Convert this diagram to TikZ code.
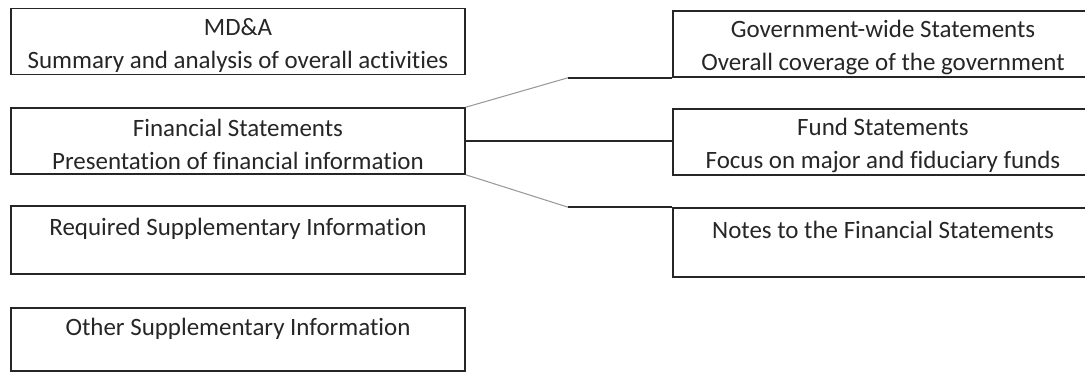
\documentclass[tikz,border=0pt]{standalone}
\usepackage{fontspec}
\setmainfont{Carlito}[Ligatures=NoCommon]

\newcommand{\boxtop}{\rule{0pt}{14pt}}

\tikzset{
  infobox/.style={draw=black!85, line width=0.9pt, minimum height=1.32cm,
    inner sep=0pt, align=center, text=black!85,
    font=\fontsize{14.2}{18.9}\selectfont},
  leftbox/.style={infobox, minimum width=9.08cm},
  rightbox/.style={infobox, minimum width=8.4cm},
  graylink/.style={draw=black!40, line width=0.6pt},
  blacklink/.style={draw=black!85, line width=0.9pt}
}

\begin{document}
\begin{tikzpicture}
  \useasboundingbox (0,0) rectangle (21.7,7.46);
  \clip (0,0) rectangle (21.7,7.46);

  % left column
  \node[leftbox] (mda) at (4.76, 6.63) {\boxtop MD\&A\\Summary and analysis of overall activities};
  \node[leftbox] (fin) at (4.76, 4.64) {\boxtop Financial Statements\\Presentation of financial information};
  \node[leftbox, minimum height=1.36cm] (rsi) at (4.76, 2.66) {\boxtop Required Supplementary Information\\\mbox{}};
  \node[leftbox, minimum height=1.27cm] (osi) at (4.76, 0.67) {\boxtop Other Supplementary Information\\\mbox{}};

  % right column
  \node[rightbox] (gov) at (17.66, 6.58) {\boxtop Government-wide Statements\\Overall coverage of the government};
  \node[rightbox] (fund) at (17.66, 4.62) {\boxtop Fund Statements\\Focus on major and fiduciary funds};
  \node[rightbox, minimum height=1.38cm] (notes) at (17.66, 2.61) {\boxtop Notes to the Financial Statements\\\mbox{}};

  % bends
  \coordinate (bendup) at (gov.south west -| 11.36,0);
  \coordinate (benddown) at (notes.north west -| 11.36,0);

  % connectors
  \draw[graylink] (fin.north east) -- (bendup);
  \draw[blacklink] (bendup) -- (gov.south west);
  \draw[blacklink] (fin.east) -- (fin.east -| fund.west);
  \draw[graylink] (fin.south east) -- (benddown);
  \draw[blacklink] (benddown) -- (notes.north west);

\end{tikzpicture}
\end{document}
